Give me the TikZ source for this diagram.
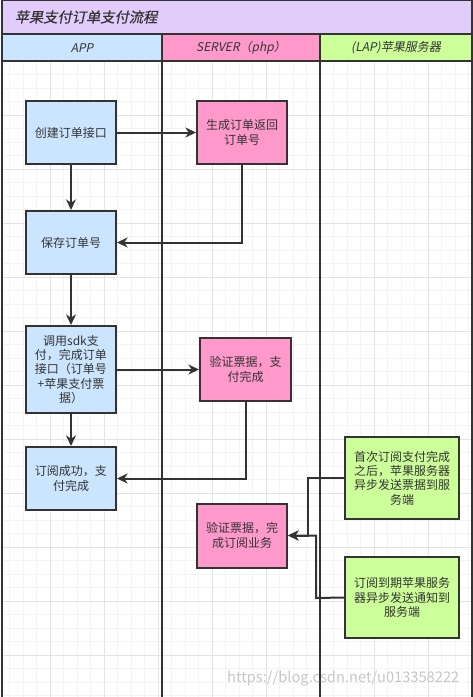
\documentclass[tikz,border=0pt]{standalone}
\usepackage{fontspec}
\setmainfont{Noto Sans CJK SC}
\newfontfamily\slantfont[FakeSlant=0.2]{Noto Sans CJK SC}
\newfontfamily\titlefont[FakeSlant=0.2, FakeBold=0.6]{Noto Sans CJK SC}
\usepackage{xcolor}
\definecolor{flowTitle}{HTML}{E1CCFA}
\definecolor{flowApp}{HTML}{CCE5FF}
\definecolor{flowServer}{HTML}{FF99CC}
\definecolor{flowApple}{HTML}{CCFF99}
\definecolor{flowLine}{HTML}{333333}
\definecolor{flowGrid}{HTML}{F4F4F4}
\definecolor{flowGridMajor}{HTML}{E4E4E4}
\usetikzlibrary{arrows.meta}

\tikzset{
  stepbox/.style={rectangle, draw=flowLine, line width=1.5pt, text=flowLine,
    align=center, inner sep=1pt, font=\fontsize{9}{10.7}\selectfont},
  flow/.style={draw=flowLine, line width=1.5pt, -{Stealth[length=8pt,width=7.5pt]}},
  lane/.style={draw=flowLine, line width=1.5pt},
  headtext/.style={text=flowLine, font=\slantfont\fontsize{9}{11}\selectfont},
}

\begin{document}
\begin{tikzpicture}[x=0.75pt, y=-0.75pt]
  \useasboundingbox (0,0) rectangle (473,697);
  \fill[white] (0,0) rectangle (473,697);
  % grid
  \begin{scope}
    \clip (2,61) rectangle (472,697);
    \foreach \i in {0,...,35} \draw[flowGrid, line width=0.6pt] (9.8+\i*13.5,61) -- (9.8+\i*13.5,697);
    \foreach \i in {0,...,52} \draw[flowGrid, line width=0.6pt] (2,7.3+\i*13.5) -- (472,7.3+\i*13.5);
    \foreach \i in {0,...,8} \draw[flowGridMajor, line width=0.6pt] (50.3+\i*54,61) -- (50.3+\i*54,697);
    \foreach \i in {0,...,13} \draw[flowGridMajor, line width=0.6pt] (2,7.3+\i*54) -- (472,7.3+\i*54);
  \end{scope}

  % title and lane headers
  \filldraw[fill=flowTitle, draw=flowLine, line width=1.5pt] (2,0) rectangle (472,34);
  \filldraw[fill=flowApp, draw=flowLine, line width=1.5pt] (2,34) rectangle (162,61);
  \filldraw[fill=flowServer, draw=flowLine, line width=1.5pt] (162,34) rectangle (320,61);
  \filldraw[fill=flowApple, draw=flowLine, line width=1.5pt] (320,34) rectangle (472,61);
  \node[text=flowLine, anchor=west, font=\titlefont\fontsize{10.7}{12}\selectfont] (title) at (10,17) {苹果支付订单支付流程};
  \node[headtext] (appHead) at (82,48) {APP};
  \node[headtext] (serverHead) at (241,48) {SERVER（php）};
  \node[headtext] (appleHead) at (396,48) {(LAP)苹果服务器};
  \draw[lane] (2,61) -- (2,697);
  \draw[lane] (162,61) -- (162,697);
  \draw[lane] (320,61) -- (320,697);
  \draw[lane] (472,61) -- (472,697);

  % steps
  \node[stepbox, fill=flowApp, minimum width=67.5pt, minimum height=47.25pt] (create) at (71,132.5) {创建订单接口};
  \node[stepbox, fill=flowServer, minimum width=67.5pt, minimum height=47.25pt] (genOrder) at (242,132.5) {生成订单返回\\订单号};
  \node[stepbox, fill=flowApp, minimum width=67.5pt, minimum height=47.25pt] (saveOrder) at (71,242.5) {保存订单号};
  \node[stepbox, fill=flowApp, minimum width=67.5pt, minimum height=65.25pt] (callSdk) at (71,369.5) {调用sdk支\\付，完成订单\\接口（订单号\\+苹果支付票\\据）};
  \node[stepbox, fill=flowServer, minimum width=68.25pt, minimum height=47.25pt] (verifyPay) at (245.5,369.5) {验证票据，支\\付完成};
  \node[stepbox, fill=flowApp, minimum width=67.5pt, minimum height=47.25pt] (subDone) at (71,478.5) {订阅成功，支\\付完成};
  \node[stepbox, fill=flowApple, minimum width=85.5pt, minimum height=61.5pt] (firstNotify) at (402,478) {首次订阅支付完成\\之后，苹果服务器\\异步发送票据到服\\务端};
  \node[stepbox, fill=flowApple, minimum width=85.5pt, minimum height=60.75pt] (expireNotify) at (402,597.5) {订阅到期苹果服务\\器异步发送通知到\\服务端};
  \node[stepbox, fill=flowServer, minimum width=67.5pt, minimum height=48pt] (verifySub) at (242,535.5) {验证票据，完\\成订阅业务};
  \coordinate (joinFirst) at (308,478);
  \coordinate (joinExpire) at (316,598);

  % connectors
  \draw[flow] (create) -- (genOrder);
  \draw[flow] (create) -- (saveOrder);
  \draw[flow] (genOrder.south) |- (saveOrder.east);
  \draw[flow] (callSdk) -- (verifyPay);
  \draw[flow] (saveOrder) -- (callSdk);
  \draw[flow] (callSdk) -- (subDone);
  \draw[flow] (verifyPay.south) |- (subDone.east);
  \draw[flow] (firstNotify.west) -- (joinFirst) |- (verifySub.east);
  \draw[flow] (expireNotify.west) -- (joinExpire) |- (verifySub.east);

  \node[text=black!22, anchor=east, font=\fontsize{11}{12}\selectfont] (mark) at (464,678) {https://blog.csdn.net/u013358222};
\end{tikzpicture}
\end{document}
